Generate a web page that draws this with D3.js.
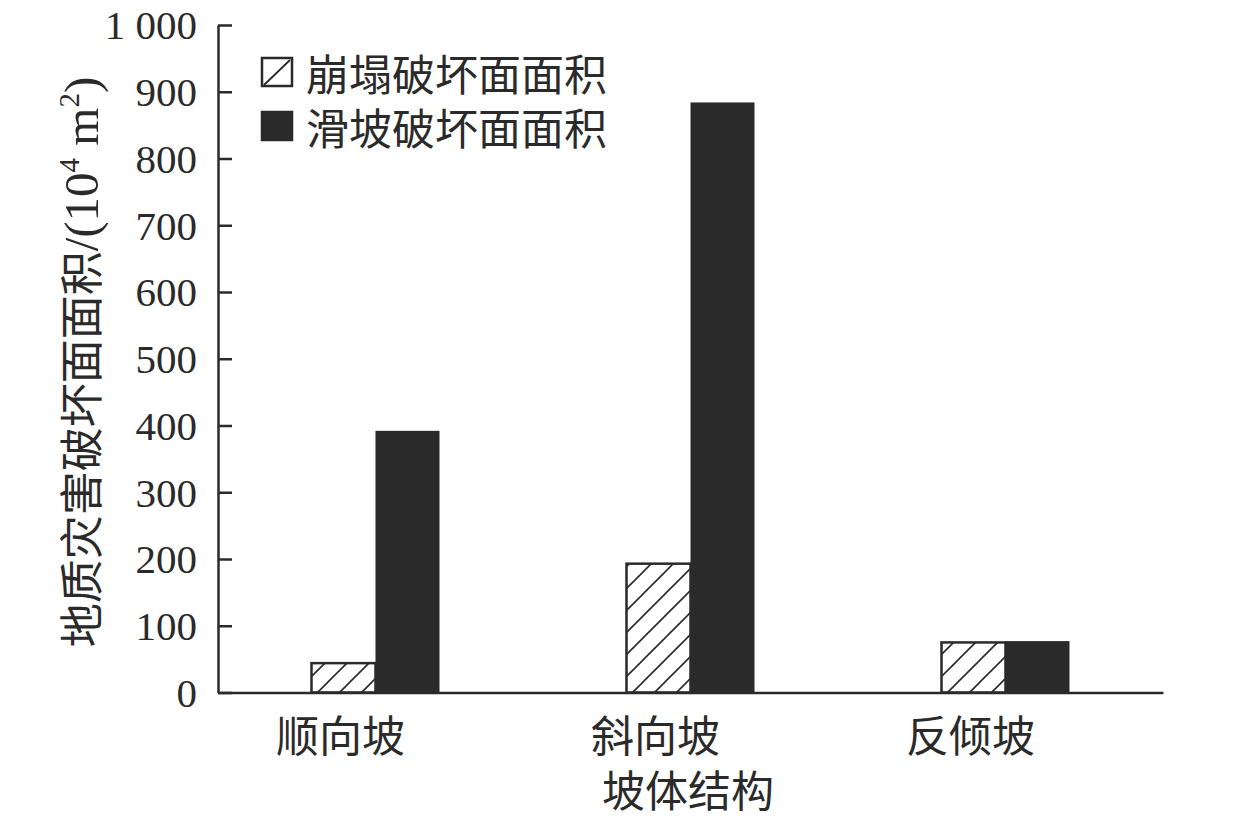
<!DOCTYPE html>
<html>
<head>
<meta charset="utf-8">
<script src="https://cdn.jsdelivr.net/npm/d3@7/dist/d3.min.js"></script>
<style>
  html, body { margin: 0; padding: 0; background: #fff; }
  svg { display: block; }
</style>
</head>
<body>
<svg id="chart" width="1260" height="819"></svg>
<script>
// Slope structure categories and failure areas (10^4 m^2)
const categories = ["顺向坡", "斜向坡", "反倾坡"];
const seriesNames = ["崩塌破坏面面积", "滑坡破坏面面积"];
const collapseArea = [44, 193, 75];
const landslideArea = [392, 884, 77];
const yTicks = [0, 100, 200, 300, 400, 500, 600, 700, 800, 900, 1000];

const ink = "#2b2a2b";
const cjk = "'Noto Sans CJK SC', 'Noto Sans', sans-serif";
const serif = "'Liberation Serif', 'DejaVu Serif', serif";

const svg = d3.select("#chart");

const margin = { left: 218, right: 1163, top: 25, bottom: 692.5 };

const y = d3.scaleLinear().domain([0, 1000]).range([margin.bottom, margin.top]);
const x0 = d3.scaleBand().domain(categories).range([margin.left, margin.right]).padding(0);
const barW = 64;
const x1 = d3.scaleBand().domain(seriesNames)
  .range([x0.bandwidth() / 2 - barW, x0.bandwidth() / 2 + barW]).padding(0);

// diagonal hatch fill
const defs = svg.append("defs");
const pat = defs.append("pattern")
  .attr("id", "hatch")
  .attr("patternUnits", "userSpaceOnUse")
  .attr("width", 22).attr("height", 22);
pat.append("rect").attr("width", 22).attr("height", 22).attr("fill", "#fff");
pat.append("path")
  .attr("d", "M-2,24 L24,-2 M-8,8 L8,-8 M14,30 L30,14")
  .attr("stroke", ink).attr("stroke-width", 1.6);

// bars
const rows = categories.map((c, i) => ({ cat: c, values: [collapseArea[i], landslideArea[i]] }));
const groups = svg.append("g").selectAll("g").data(rows).join("g")
  .attr("transform", d => `translate(${x0(d.cat)},0)`);

groups.selectAll("rect")
  .data(d => d.values.map((v, k) => ({ name: seriesNames[k], v, k })))
  .join("rect")
  .attr("x", d => x1(d.name))
  .attr("width", x1.bandwidth())
  .attr("y", d => y(d.v))
  .attr("height", d => y(0) - y(d.v))
  .attr("fill", d => d.k === 0 ? "url(#hatch)" : ink)
  .attr("stroke", ink)
  .attr("stroke-width", d => d.k === 0 ? 2.5 : 0);

// y axis with inward ticks
const fmt = d3.formatLocale({ decimal: ".", thousands: " ", grouping: [3], currency: ["", ""] }).format(",d");
const yAxis = svg.append("g")
  .attr("transform", `translate(${margin.left},0)`)
  .call(d3.axisRight(y).tickValues(yTicks).tickSize(14).tickSizeOuter(0).tickFormat(fmt));
yAxis.select(".domain").attr("stroke", ink).attr("stroke-width", 2.5);
yAxis.selectAll(".tick line").attr("stroke", ink).attr("stroke-width", 2.5);
yAxis.selectAll(".tick text")
  .attr("x", -21)
  .attr("text-anchor", "end")
  .attr("dy", "0.34em")
  .attr("fill", ink)
  .style("font-family", serif)
  .style("font-size", "41px");

// x axis
const xAxis = svg.append("g")
  .attr("transform", `translate(0,${margin.bottom})`)
  .call(d3.axisBottom(x0).tickSize(0).tickSizeOuter(0));
xAxis.select(".domain").attr("stroke", ink).attr("stroke-width", 2.5);
xAxis.selectAll(".tick text")
  .attr("x", -35)
  .attr("y", 40)
  .attr("dy", "0")
  .attr("dominant-baseline", "central")
  .attr("fill", ink)
  .style("font-family", cjk)
  .style("font-size", "43px");

// axis titles
svg.append("text")
  .attr("x", 688).attr("y", 788)
  .attr("text-anchor", "middle")
  .attr("dominant-baseline", "central")
  .attr("fill", ink)
  .style("font-family", cjk).style("font-size", "43px")
  .text("坡体结构");

const yt = svg.append("text")
  .attr("transform", "translate(98,362) rotate(-90)")
  .attr("text-anchor", "middle")
  .attr("fill", ink);
yt.append("tspan").style("font-family", cjk).style("font-size", "44px").text("地质灾害破坏面面积");
yt.append("tspan").style("font-family", serif).style("font-size", "49px").text("/(10");
yt.append("tspan").style("font-family", serif).style("font-size", "29px").attr("dy", -19).text("4");
yt.append("tspan").style("font-family", serif).style("font-size", "49px").attr("dy", 19).text(" m");
yt.append("tspan").style("font-family", serif).style("font-size", "29px").attr("dy", -19).text("2");
yt.append("tspan").style("font-family", serif).style("font-size", "49px").attr("dy", 19).text(")");

// legend
const legend = svg.append("g");
seriesNames.forEach((name, k) => {
  const cy = 72 + k * 54;
  legend.append("rect")
    .attr("x", 262).attr("y", cy - 14)
    .attr("width", 30).attr("height", 28)
    .attr("fill", k === 0 ? "#fff" : ink)
    .attr("stroke", ink).attr("stroke-width", 2.5);
  if (k === 0) {
    legend.append("line")
      .attr("x1", 264).attr("y1", cy + 13).attr("x2", 290).attr("y2", cy - 12)
      .attr("stroke", ink).attr("stroke-width", 1.8);
  }
  legend.append("text")
    .attr("x", 306).attr("y", cy)
    .attr("dominant-baseline", "central")
    .attr("fill", ink)
    .style("font-family", cjk).style("font-size", "43px")
    .text(name);
});
</script>
</body>
</html>
